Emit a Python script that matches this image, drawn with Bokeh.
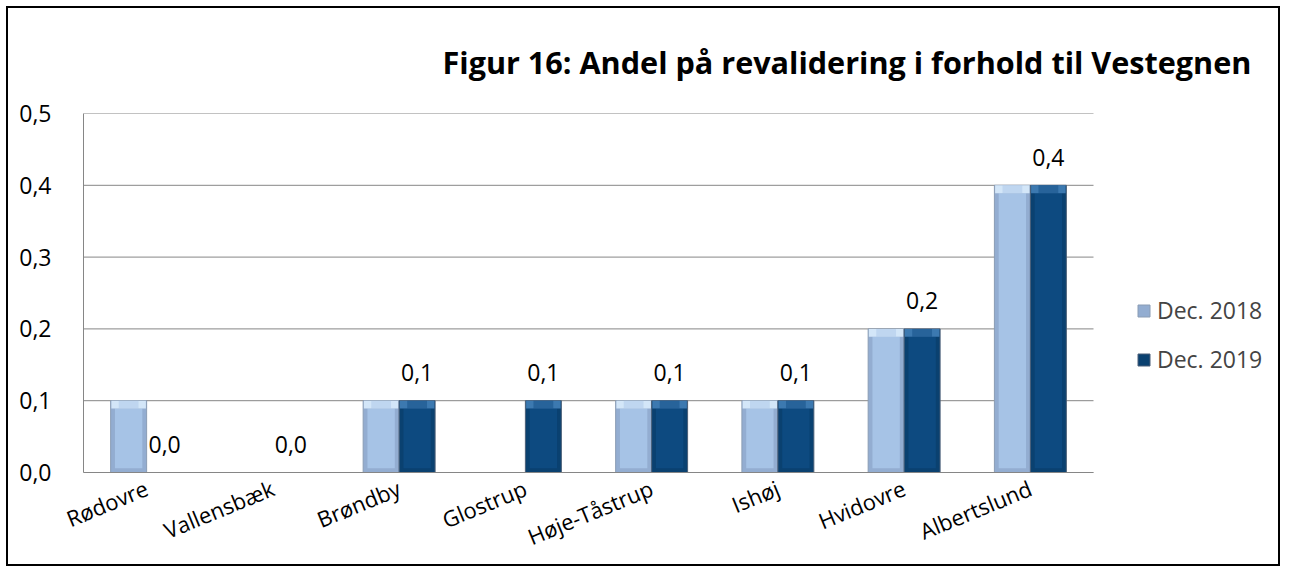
import numpy as np
from bokeh.plotting import figure
from bokeh.models import (Range1d, ColumnDataSource, Legend, LegendItem,
                          Title, FixedTicker, CustomJSTickFormatter)
from bokeh.core.properties import value
from bokeh.embed import file_html
from bokeh.resources import INLINE

# ---------------- data ----------------
categories = ["Rødovre", "Vallensbæk", "Brøndby", "Glostrup",
              "Høje-Tåstrup", "Ishøj", "Hvidovre", "Albertslund"]
dec_2018 = [0.1, None, 0.1, None, 0.1, 0.1, 0.2, 0.4]
dec_2019 = [0.0, 0.0, 0.1, 0.1, 0.1, 0.1, 0.2, 0.4]
series_names = ["Dec. 2018", "Dec. 2019"]
y_ticks = [0.0, 0.1, 0.2, 0.3, 0.4, 0.5]
title_text = "Figur 16: Andel på revalidering i forhold til Vestegnen"

FONT = "Open Sans"
GRID = "#868686"

# layout (pixels)
W, H = 1274, 560
ML, MT, MB, MR = 75, 105, 96, 0
cat_px = 1010                       # width used by the categories
frame_w = W - ML - MR
n = len(categories)
x_end = n * frame_w / cat_px        # extra room on the right for the legend

p = figure(x_range=Range1d(0, x_end), y_range=Range1d(0, 0.5),
           width=W, height=H,
           output_backend="svg", toolbar_location=None,
           min_border_left=ML, min_border_right=MR,
           min_border_top=MT, min_border_bottom=MB)
p.styles = {"border": "2px solid black", "margin": "6px"}
p.outline_line_color = None
p.background_fill_color = "white"
p.border_fill_color = "white"

title = Title(text=title_text, text_font=FONT, text_font_size="30.6px",
              text_font_style="bold", text_color="black",
              align="left", offset=359, standoff=61)
p.add_layout(title, "above")

# grid lines (only across the category area)
p.xgrid.visible = False
p.ygrid.visible = False
grid_src = ColumnDataSource(dict(y=y_ticks, x0=[0] * len(y_ticks), x1=[n] * len(y_ticks)))
p.segment(x0="x0", x1="x1", y0="y", y1="y", source=grid_src,
          line_color=GRID, line_width=1)

p.yaxis.ticker = FixedTicker(ticks=y_ticks)
p.yaxis.formatter = CustomJSTickFormatter(code="return tick.toFixed(1).replace('.', ',');")
p.yaxis.major_label_text_font = FONT
p.yaxis.major_label_text_font_size = "23px"
p.yaxis.major_label_text_color = "black"
p.yaxis.major_tick_line_color = None
p.yaxis.minor_tick_line_color = None
p.yaxis.axis_line_color = GRID
p.yaxis.major_label_standoff = 26

p.xaxis.ticker = FixedTicker(ticks=[i + 0.5 for i in range(n)])
p.xaxis.formatter = CustomJSTickFormatter(args=dict(cats=categories),
                                          code="return cats[Math.floor(tick)];")
p.xaxis.bounds = (0, n)
p.xaxis.major_label_orientation = 0.39
p.xaxis.major_label_text_font = FONT
p.xaxis.major_label_text_font_size = "22px"
p.xaxis.major_label_text_color = "black"
p.xaxis.major_tick_line_color = None
p.xaxis.minor_tick_line_color = None
p.xaxis.axis_line_color = GRID
p.xaxis.major_label_standoff = 8

# ---------------- bars (bevel look) ----------------
bw = 0.285
offsets = [-bw / 2, bw / 2]
styles = [
    dict(edge="#93ADD1", main="#A6C3E6", cap="#D3E6F8", line="#8A9CB4"),
    dict(edge="#0A4170", main="#0D4A80", cap="#3C79B0", line="#4A5F78"),
]
centers = np.arange(n) + 0.5

renderers = []
for vals, off, st in zip([dec_2018, dec_2019], offsets, styles):
    top = np.array([np.nan if (v is None or v == 0) else v for v in vals], dtype=float)
    src = ColumnDataSource(dict(
        x=centers + off,
        top=top,
        cap_bot=top - 0.011,
        in_top=top - 0.011,
        in_bot=np.where(np.isnan(top), np.nan, 0.006),
    ))
    r = p.vbar(x="x", top="top", bottom=0, width=bw, source=src,
               fill_color=st["edge"], line_color=st["line"], line_width=1)
    p.vbar(x="x", top="in_top", bottom="in_bot", width=bw * 0.76, source=src,
           fill_color=st["main"], line_color=None)
    p.vbar(x="x", top="top", bottom="cap_bot", width=bw * 0.96, source=src,
           fill_color=st["cap"], line_color=None)
    p.vbar(x="x", top="top", bottom="cap_bot", width=bw * 0.55, source=src,
           fill_color=st["main"], fill_alpha=0.45, line_color=None)
    renderers.append(r)

# data labels for Dec. 2019
lab_src = ColumnDataSource(dict(
    x=centers + offsets[1],
    y=dec_2019,
    txt=[f"{v:.1f}".replace(".", ",") for v in dec_2019],
))
p.text(x="x", y="y", text="txt", source=lab_src,
       text_font=value(FONT), text_font_size="23px", text_color="black",
       text_align="center", text_baseline="alphabetic", y_offset=-28)

legend = Legend(items=[LegendItem(label=series_names[i], renderers=[renderers[i]])
                       for i in range(2)],
                location=(cat_px + 43, 97),
                glyph_width=15, glyph_height=15, label_standoff=6,
                label_text_font=FONT, label_text_font_size="23px",
                label_height=24, spacing=17, padding=10, margin=0,
                border_line_color=None, background_fill_alpha=0)
p.add_layout(legend, "center")

open("out.html", "w").write(file_html(p, INLINE))
